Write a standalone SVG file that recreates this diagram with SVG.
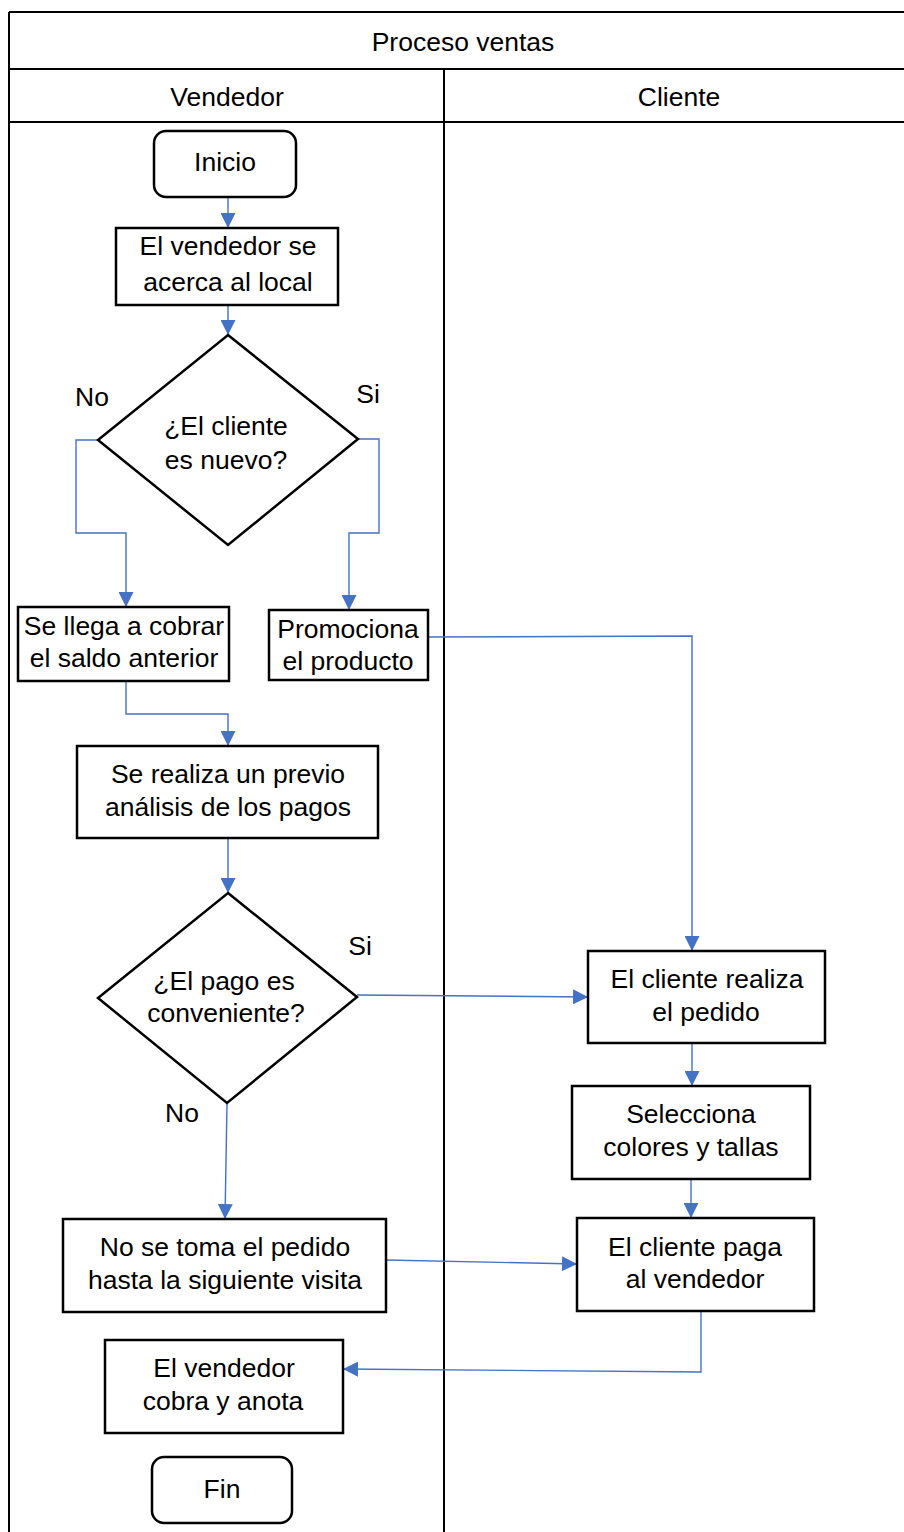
<svg xmlns="http://www.w3.org/2000/svg" width="904" height="1532" viewBox="0 0 904 1532">
<defs>
<marker id="arr" markerUnits="userSpaceOnUse" markerWidth="15" markerHeight="15" refX="15" refY="7.5" orient="auto">
<path d="M0,0 L15,7.5 L0,15 z" fill="#4472C4"/>
</marker>
<style>
text{font-family:"Liberation Sans",Arial,sans-serif;font-size:26.5px;fill:#000;text-anchor:middle}
.frame{stroke:#000;stroke-width:2;fill:none}
.box{stroke:#000;stroke-width:2.5;fill:#fff}
.conn{stroke:#4472C4;stroke-width:1.4;fill:none;marker-end:url(#arr)}
</style>
</defs>
<rect width="904" height="1532" fill="#fff"/>
<g id="pool" class="frame">
<path d="M9,12 H904 M9,12 V1532 M9,69 H904 M9,122 H904 M444,69 V1532"/>
</g>
<g id="headers">
<text x="463" y="51">Proceso ventas</text>
<text x="227" y="106">Vendedor</text>
<text x="679" y="106">Cliente</text>
</g>
<g id="connectors">
<path class="conn" d="M228,198 V228"/>
<path class="conn" d="M228,305 V335"/>
<path class="conn" d="M98,440 H76 V533 H126 V607"/>
<path class="conn" d="M358,439 H379 V533 H349 V610"/>
<path class="conn" d="M126,681 V714 H228 V746"/>
<path class="conn" d="M428,637 L692,636 V951"/>
<path class="conn" d="M228,838 V893"/>
<path class="conn" d="M357,995 L588,997"/>
<path class="conn" d="M692,1043 V1086"/>
<path class="conn" d="M691,1179 V1218"/>
<path class="conn" d="M227,1103 L225,1219"/>
<path class="conn" d="M386,1260 L577,1264"/>
<path class="conn" d="M701,1311 V1372 L343,1369"/>
</g>
<g id="inicio">
<rect class="box" x="154" y="131" width="142" height="66" rx="12"/>
<text x="225" y="171">Inicio</text>
</g>
<g id="acerca">
<rect class="box" x="116" y="228" width="222" height="77"/>
<text x="228" y="255">El vendedor se</text>
<text x="228" y="291">acerca al local</text>
</g>
<g id="decision1">
<path class="box" d="M228,335 L358,439 L228,545 L98,440 Z"/>
<text x="226" y="435">¿El cliente</text>
<text x="226" y="469">es nuevo?</text>
<text x="92" y="406">No</text>
<text x="368" y="403">Si</text>
</g>
<g id="cobrar">
<rect class="box" x="18" y="607" width="211" height="74"/>
<text x="124" y="635">Se llega a cobrar</text>
<text x="124" y="667">el saldo anterior</text>
</g>
<g id="promociona">
<rect class="box" x="269" y="610" width="159" height="70"/>
<text x="348" y="638">Promociona</text>
<text x="348" y="670">el producto</text>
</g>
<g id="analisis">
<rect class="box" x="77" y="746" width="301" height="92"/>
<text x="228" y="783">Se realiza un previo</text>
<text x="228" y="816">análisis de los pagos</text>
</g>
<g id="decision2">
<path class="box" d="M228,893 L357,997 L227,1103 L98,998 Z"/>
<text x="224" y="990">¿El pago es</text>
<text x="226" y="1022">conveniente?</text>
<text x="360" y="955">Si</text>
<text x="182" y="1122">No</text>
</g>
<g id="pedido">
<rect class="box" x="588" y="951" width="237" height="92"/>
<text x="707" y="988">El cliente realiza</text>
<text x="706" y="1021">el pedido</text>
</g>
<g id="selecciona">
<rect class="box" x="572" y="1086" width="238" height="93"/>
<text x="691" y="1123">Selecciona</text>
<text x="691" y="1156">colores y tallas</text>
</g>
<g id="paga">
<rect class="box" x="577" y="1218" width="237" height="93"/>
<text x="695" y="1256">El cliente paga</text>
<text x="695" y="1288">al vendedor</text>
</g>
<g id="notoma">
<rect class="box" x="63" y="1219" width="323" height="93"/>
<text x="225" y="1256">No se toma el pedido</text>
<text x="225" y="1289">hasta la siguiente visita</text>
</g>
<g id="cobra">
<rect class="box" x="105" y="1340" width="238" height="93"/>
<text x="224" y="1377">El vendedor</text>
<text x="223" y="1410">cobra y anota</text>
</g>
<g id="fin">
<rect class="box" x="152" y="1457" width="140" height="66" rx="12"/>
<text x="222" y="1498">Fin</text>
</g>
</svg>
